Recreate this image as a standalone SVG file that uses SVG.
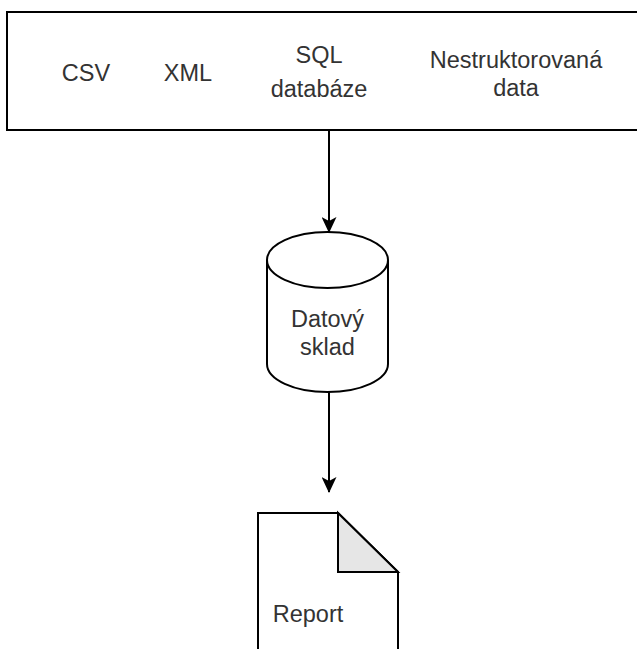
<svg xmlns="http://www.w3.org/2000/svg" width="637" height="649" viewBox="0 0 637 649">
  <defs>
    <style>
      .shape { fill: #ffffff; stroke: #000000; stroke-width: 2; }
      .fold { fill: #e6e6e6; stroke: #000000; stroke-width: 2; stroke-linejoin: miter; }
      .label { font-family: "Liberation Sans", Arial, sans-serif; font-size: 23.5px; fill: #333333; text-anchor: middle; }
      .edge { fill: none; stroke: #000000; stroke-width: 2; }
    </style>
    <marker id="arrow" markerWidth="16" markerHeight="15" refX="15" refY="7.5" orient="auto" markerUnits="userSpaceOnUse" viewBox="0 0 16 15">
      <path d="M0,0 L16,7.5 L0,15 L4,7.5 Z" fill="#000000"/>
    </marker>
  </defs>
  <rect width="637" height="649" fill="#ffffff"/>

  <!-- data sources panel -->
  <g id="sources">
    <rect class="shape" x="7" y="12" width="640" height="118"/>
    <text class="label" x="86" y="81">CSV</text>
    <text class="label" x="188" y="81">XML</text>
    <text class="label" x="319" y="63">SQL</text>
    <text class="label" x="319" y="97">databáze</text>
    <text class="label" x="516" y="68">Nestruktorovaná</text>
    <text class="label" x="516" y="96">data</text>
  </g>

  <!-- data warehouse cylinder -->
  <g id="warehouse">
    <path class="shape" d="M267,260 A60.5,28 0 0 1 388,260 L388,364 A60.5,28 0 0 1 267,364 Z"/>
    <path class="shape" fill="none" d="M267,260 A60.5,28 0 0 0 388,260"/>
    <text class="label" x="327.5" y="327">Datový</text>
    <text class="label" x="327.5" y="355">sklad</text>
  </g>

  <!-- report document -->
  <g id="report">
    <path class="shape" d="M258,513 L338,513 L398,572 L398,660 L258,660 Z"/>
    <path class="fold" d="M338,513 L338,572 L398,572 Z"/>
    <text class="label" x="308" y="622">Report</text>
  </g>

  <!-- connectors -->
  <g id="connectors">
    <path class="edge" d="M329,130 L329,232" marker-end="url(#arrow)"/>
    <path class="edge" d="M329,392 L329,492" marker-end="url(#arrow)"/>
  </g>
</svg>
